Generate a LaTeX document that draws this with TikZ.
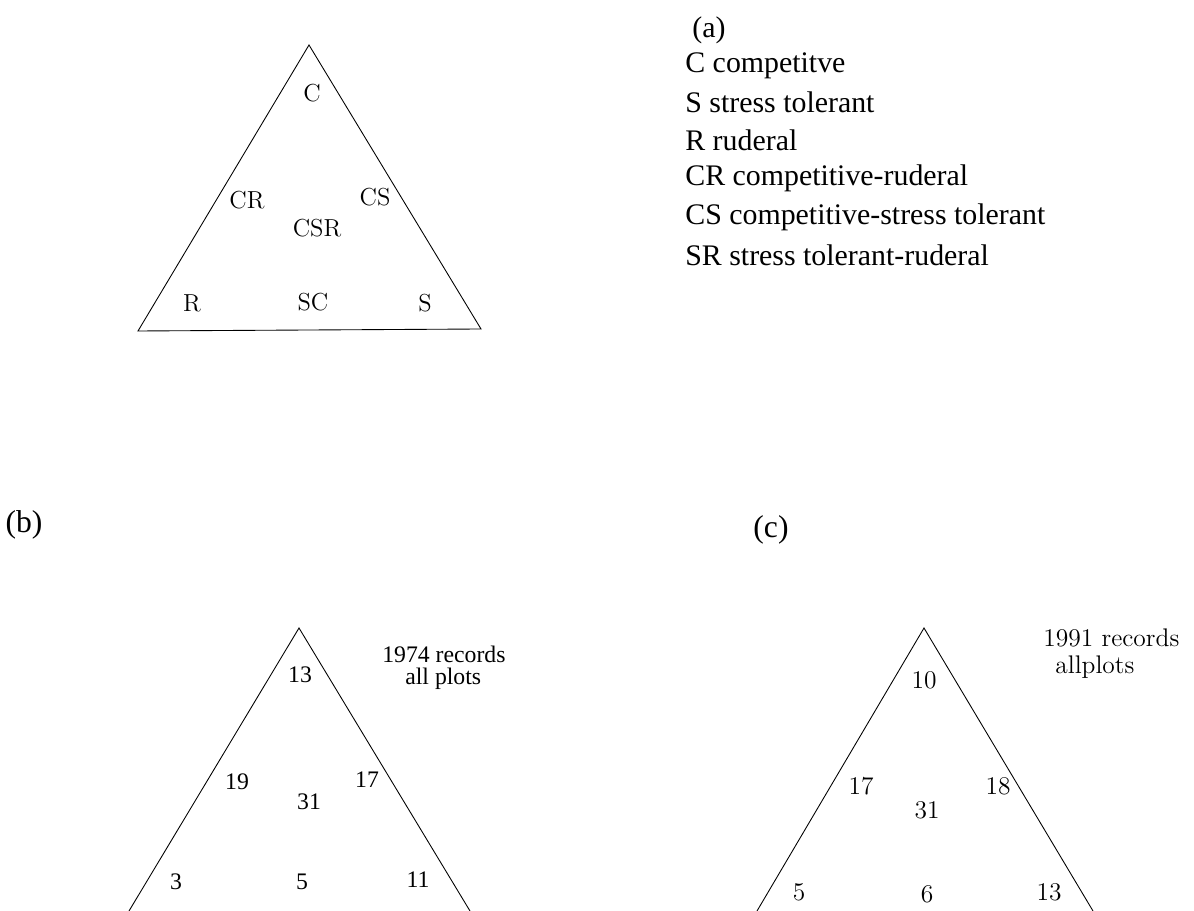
\documentclass[tikz,border=0pt]{standalone}
\usepackage{fontspec}
\newfontfamily\tnr{Liberation Serif}
\usepackage{tikz}
\tikzset{
  tri/.style={line width=0.5pt},
  lab/.style={font=\fontsize{14}{16}\selectfont,inner sep=0pt},
  leg/.style={font=\tnr\fontsize{17}{20}\selectfont,anchor=west,inner sep=0pt},
  blab/.style={font=\tnr\fontsize{13.5}{15}\selectfont,inner sep=0pt},
  clab/.style={font=\fontsize{14.5}{16}\selectfont,inner sep=0pt},
  panel/.style={font=\tnr\fontsize{18}{20}\selectfont,inner sep=0pt}
}

\begin{document}
\begin{tikzpicture}[x=0.02cm,y=-0.02cm]
  \useasboundingbox (0,0) rectangle (1194,911);
  \clip (0,0) rectangle (1194,911);
  % (a) CSR triangle
  \coordinate (aT) at (309,45); \coordinate (aL) at (138,331); \coordinate (aR) at (481,329);
  \draw[tri] (aL) -- (aT) -- (aR) -- cycle;
  \node[lab] (aC) at (312,93) {C};
  \node[lab] (aCR) at (247,200) {CR}; \node[lab] (aCS) at (375,197) {CS};
  \node[lab] (aCSR) at (317,228) {CSR};
  \node[lab] (aRR) at (192,303) {R}; \node[lab] (aSC) at (313,302) {SC}; \node[lab] (aS) at (425,303) {S};
  % legend
  \node[leg] (legA) at (692,30) {(a)};
  \node[leg] (leg1) at (685,66) {C competitve};
  \node[leg] (leg2) at (685,102) {S stress tolerant};
  \node[leg] (leg3) at (685,140) {R ruderal};
  \node[leg] (leg4) at (685,178) {CR competitive-ruderal};
  \node[leg] (leg5) at (685,217) {CS competitive-stress tolerant};
  \node[leg] (leg6) at (685,255) {SR stress tolerant-ruderal};
  % (b) 1974
  \node[panel] (pb) at (24,525) {(b)};
  \coordinate (bT) at (299,628); \coordinate (bL) at (129,911); \coordinate (bR) at (470,911);
  \draw[tri] (bL) -- (bT) -- (bR);
  \node[blab] (b13) at (300,675) {13};
  \node[blab] (b19) at (237,782) {19}; \node[blab] (b17) at (367,780) {17};
  \node[blab] (b31) at (309,802) {31};
  \node[blab] (b3) at (176,882) {3}; \node[blab] (b5) at (302,882) {5}; \node[blab] (b11) at (418,880) {11};
  \node[blab,anchor=west] (bRec) at (382,654) {1974 records};
  \node[blab,anchor=west] (bAll) at (405,679) {all plots};
  % (c) 1991
  \node[panel] (pc) at (771,530) {(c)};
  \coordinate (cT) at (924,628); \coordinate (cL) at (757,911); \coordinate (cR) at (1093,911);
  \draw[tri] (cL) -- (cT) -- (cR);
  \node[clab] (c10) at (924,680) {10};
  \node[clab] (c17) at (861,786) {17}; \node[clab] (c18) at (998,786) {18};
  \node[clab] (c31) at (927,810) {31};
  \node[clab] (c5) at (799,892) {5}; \node[clab] (c6) at (927,894) {6}; \node[clab] (c13) at (1049,892) {13};
  \node[clab,anchor=west] (cRec) at (1043,638) {1991 records};
  \node[clab,anchor=west] (cAll) at (1055,667) {allplots};
\end{tikzpicture}
\end{document}
